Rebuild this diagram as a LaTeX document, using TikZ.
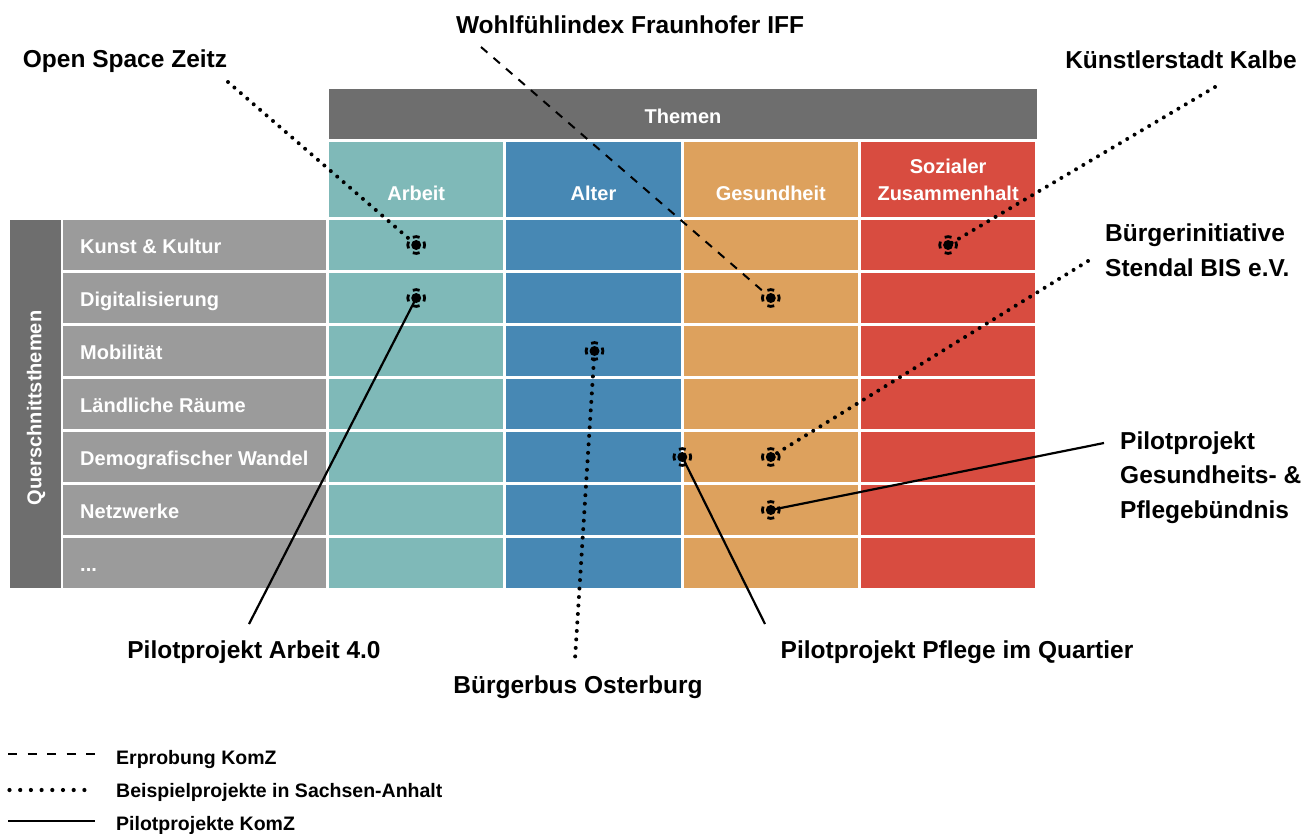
\documentclass[tikz,border=0pt]{standalone}
\usepackage{fontspec}
\setmainfont{Liberation Sans}
\definecolor{cArbeit}{RGB}{127,185,184}
\definecolor{cAlter}{RGB}{71,136,180}
\definecolor{cGesund}{RGB}{221,161,93}
\definecolor{cSozial}{RGB}{216,76,64}
\definecolor{cHead}{RGB}{110,110,110}
\definecolor{cRow}{RGB}{155,155,155}
\newcommand{\projspot}[2]{%
  \node[spotdot] (#1) at (#2) {};
  \foreach \a in {0,90,180,270}
    \draw[spotring] (#1.center) ++(\a-24:8.4) arc[start angle=\a-24, end angle=\a+24, radius=8.4];
}
\begin{document}
\begin{tikzpicture}[x=1pt,y=-1pt,
  bigl/.style={font=\fontsize{24.5}{34.5}\selectfont\bfseries, inner sep=0pt, text=black, anchor=base},
  tabl/.style={font=\fontsize{20}{26}\selectfont\bfseries, inner sep=0pt, text=white, anchor=base},
  rowl/.style={tabl, anchor=base west},
  legl/.style={font=\fontsize{19.5}{24}\selectfont\bfseries, inner sep=0pt, anchor=base west},
  spotdot/.style={circle, fill=black, minimum size=10pt, inner sep=0pt},
  spotring/.style={line width=2.8pt},
  dotline/.style={line width=4pt, line cap=round, dash pattern=on 0pt off 8.5pt},
  dashline/.style={line width=2pt, dash pattern=on 8.5pt off 8pt},
  solidline/.style={line width=2.2pt},
]
\useasboundingbox (0,0) rectangle (1303,833);

% ---- header bars
\fill[cHead] (329,89) rectangle (1037,139);
\node[tabl] (themen) at (683,123) {Themen};
\fill[cHead] (10,220) rectangle (61,588);
\node[tabl, rotate=90, anchor=center] (quer) at (36,408) {Querschnittsthemen};

% ---- theme columns
\foreach \c [count=\i from 0] in {cArbeit,cAlter,cGesund,cSozial}{
  \fill[\c] (329+177.3*\i,142) rectangle ++(174.3,75);
  \foreach \r in {0,1,2,3,4,5,6}
    \fill[\c] (329+177.3*\i,220+53*\r) rectangle ++(174.3,50);
}
\node[tabl] (hArbeit) at (416.2,200) {Arbeit};
\node[tabl] (hAlter) at (593.5,200) {Alter};
\node[tabl] (hGesund) at (770.8,200) {Gesundheit};
\node[tabl] (hSozial1) at (948.1,173.5) {Sozialer};
\node[tabl] (hSozial2) at (948.1,200) {Zusammenhalt};

% ---- cross-cutting rows
\foreach \r in {0,1,2,3,4,5,6}
  \fill[cRow] (63,220+53*\r) rectangle ++(263,50);
\node[rowl] (row0) at (80,253) {Kunst \& Kultur};
\node[rowl] (row1) at (80,306) {Digitalisierung};
\node[rowl] (row2) at (80,359) {Mobilität};
\node[rowl] (row3) at (80,412) {Ländliche Räume};
\node[rowl] (row4) at (80,465) {Demografischer Wandel};
\node[rowl] (row5) at (80,518) {Netzwerke};
\node[rowl] (row6) at (80,571) {...};

% ---- project positions
\coordinate (pKunstArb) at (416.2,245);
\coordinate (pDigArb) at (416.2,298);
\coordinate (pMobAlt) at (594.5,351);
\coordinate (pDigGes) at (770.8,298);
\coordinate (pKunstSoz) at (948.1,245);
\coordinate (pDemoAG) at (682.3,457);
\coordinate (pDemoGes) at (770.8,457);
\coordinate (pNetzGes) at (770.8,510);

% ---- labels (multi-line nodes: base = last line)
\node[bigl] (lZeitz) at (125,67) {Open Space Zeitz};
\node[bigl] (lIFF) at (630,33) {Wohlfühlindex Fraunhofer IFF};
\node[bigl] (lKalbe) at (1181,68) {Künstlerstadt Kalbe};
\node[bigl, anchor=base west, align=left] (lBIS) at (1105,276) {Bürgerinitiative\\Stendal BIS e.V.};
\node[bigl, anchor=base west, align=left] (lGPB) at (1120,518) {Pilotprojekt\\Gesundheits- \&\\Pflegebündnis};
\node[bigl] (lArb) at (254,658) {Pilotprojekt Arbeit 4.0};
\node[bigl] (lBus) at (578,693) {Bürgerbus Osterburg};
\node[bigl] (lQuart) at (957,658) {Pilotprojekt Pflege im Quartier};

% ---- free ends of the connectors next to the labels
\coordinate (eZeitz) at (228,82);
\coordinate (eIFF) at (481,47);
\coordinate (eKalbe) at (1215,87);
\coordinate (eBIS) at (1088,261);
\coordinate (eGPB) at (1104,443);
\coordinate (eArb) at (249,624);
\coordinate (eBus) at (575,659);
\coordinate (eQuart) at (765,624);

% ---- connectors
\draw[dotline] (eZeitz) -- (pKunstArb);
\draw[dashline] (eIFF) -- (pDigGes);
\draw[dotline] (eKalbe) -- (pKunstSoz);
\draw[dotline] (eBIS) -- (pDemoGes);
\draw[solidline] (eGPB) -- (pNetzGes);
\draw[solidline] (pDigArb) -- (eArb);
\draw[dotline] (pMobAlt) -- (eBus);
\draw[solidline] (pDemoAG) -- (eQuart);

% ---- markers on top
\projspot{mKunstArb}{pKunstArb}
\projspot{mDigArb}{pDigArb}
\projspot{mMobAlt}{pMobAlt}
\projspot{mDigGes}{pDigGes}
\projspot{mKunstSoz}{pKunstSoz}
\projspot{mDemoAG}{pDemoAG}
\projspot{mDemoGes}{pDemoGes}
\projspot{mNetzGes}{pNetzGes}

% ---- legend
\coordinate (k1a) at (8,754); \coordinate (k1b) at (95,754);
\coordinate (k2a) at (9.5,790); \coordinate (k2b) at (95,790);
\coordinate (k3a) at (8,821); \coordinate (k3b) at (95,821);
\draw[line width=2.2pt, dash pattern=on 9pt off 10.5pt] (k1a) -- (k1b);
\draw[line width=4.2pt, line cap=round, dash pattern=on 0pt off 10.7pt] (k2a) -- (k2b);
\draw[solidline] (k3a) -- (k3b);
\node[legl] (t1) at (116,764) {Erprobung KomZ};
\node[legl] (t2) at (116,797) {Beispielprojekte in Sachsen-Anhalt};
\node[legl] (t3) at (116,830) {Pilotprojekte KomZ};
\end{tikzpicture}
\end{document}
